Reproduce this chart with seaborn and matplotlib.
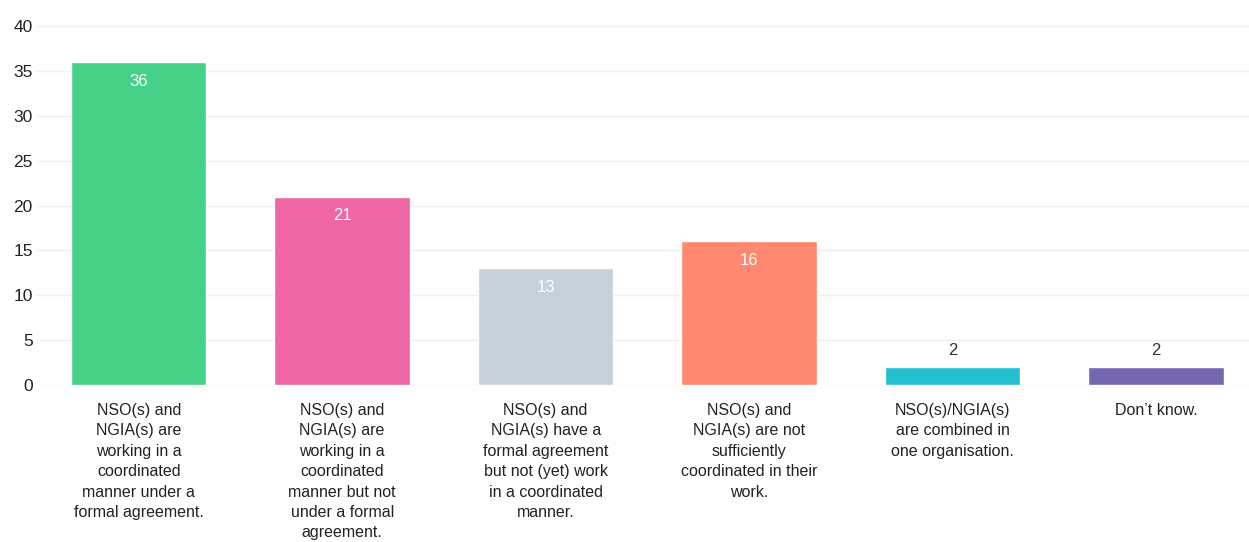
import matplotlib
matplotlib.use("Agg")
import matplotlib.pyplot as plt
import seaborn as sns
import pandas as pd

categories = [
    "NSO(s) and\nNGIA(s) are\nworking in a\ncoordinated\nmanner under a\nformal agreement.",
    "NSO(s) and\nNGIA(s) are\nworking in a\ncoordinated\nmanner but not\nunder a formal\nagreement.",
    "NSO(s) and\nNGIA(s) have a\nformal agreement\nbut not (yet) work\nin a coordinated\nmanner.",
    "NSO(s) and\nNGIA(s) are not\nsufficiently\ncoordinated in their\nwork.",
    "NSO(s)/NGIA(s)\nare combined in\none organisation.",
    "Don\u2019t know.",
]
counts = [36, 21, 13, 16, 2, 2]
colors = ["#45D288", "#EE67A4", "#C5D0D9", "#FF8970", "#21BFD0", "#7566B0"]
yticks = [0, 5, 10, 15, 20, 25, 30, 35, 40]

sns.set_theme(style="white")
plt.rcParams["font.family"] = ["Liberation Sans", "DejaVu Sans"]

df = pd.DataFrame({"category": categories, "count": counts})

fig = plt.figure(figsize=(12.49, 5.42), dpi=100)
ax = fig.add_axes([37 / 1249, 1 - 385 / 542, (1249 - 37) / 1249, 359 / 542])

sns.barplot(data=df, x="category", y="count", hue="category", palette=colors,
            width=0.666, legend=False, ax=ax, saturation=1, zorder=3)

ax.set_ylim(0, 40)
ax.set_xlim(-0.5, 5.457)
ax.set_yticks(yticks)
ax.set_yticklabels([str(t) for t in yticks], fontsize=12.5, color="#222222")
ax.yaxis.grid(True, color="#EFEFEF", linewidth=1, zorder=0)
ax.set_axisbelow(True)
for s in ax.spines.values():
    s.set_visible(False)
ax.tick_params(axis="y", length=0, pad=3)
ax.tick_params(axis="x", length=0, pad=13)
ax.set_xticklabels(categories, fontsize=11.5, color="#222222", linespacing=1.45, va="top")
ax.set_xlabel("")
ax.set_ylabel("")

for i, v in enumerate(counts):
    if v >= 5:
        ax.annotate(str(v), (i, v), xytext=(0, -14), textcoords="offset points",
                    ha="center", va="center", color="white", fontsize=12)
    else:
        ax.annotate(str(v), (i, v), xytext=(0, 12), textcoords="offset points",
                    ha="center", va="center", color="#333333", fontsize=12)

fig.savefig("out.png", dpi=100, facecolor="white")
